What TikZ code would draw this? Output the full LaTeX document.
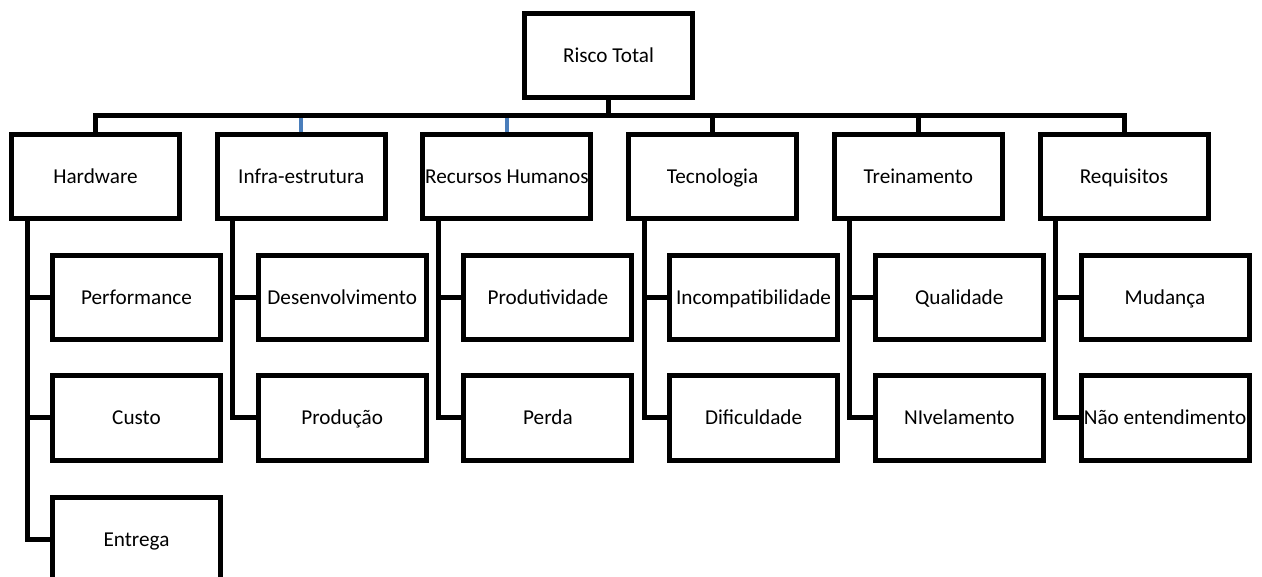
\documentclass[tikz,border=0pt]{standalone}
\usepackage{fontspec}
\setmainfont{Carlito}
\definecolor{linkblue}{RGB}{74,126,187}
\begin{document}
\begin{tikzpicture}[x=1pt,y=-1pt,
  box/.style={draw, line width=5pt, minimum width=168pt, minimum height=84pt,
    inner sep=0pt, line join=miter, font=\fontsize{21.2}{25}\selectfont,
    text height=13.6pt, text depth=0pt},
  link/.style={line width=5pt, line join=miter},
  bluelink/.style={line width=4.5pt, draw=linkblue}]
\useasboundingbox (0,0) rectangle (1262,577);
\clip (0,0) rectangle (1262,577);
\fill[white] (0,0) rectangle (1262,577);

% root
\node[box] (root) at (608.5,56) {Risco Total};

% first level
\node[box] (hw)    at (95.5,177)  {Hardware};
\node[box] (infra) at (301.2,177) {Infra-estrutura};
\node[box] (rh)    at (506.9,177) {Recursos Humanos};
\node[box] (tec)   at (712.6,177) {Tecnologia};
\node[box] (tre)   at (918.3,177) {Treinamento};
\node[box] (req)   at (1124,177)  {Requisitos};

% second level
\node[box] (perf)   at (136.5,297.5) {Performance};
\node[box] (custo)  at (136.5,418)   {Custo};
\node[box] (entr)   at (136.5,539.5) {Entrega};
\node[box] (desen)  at (342.2,297.5) {Desenvolvimento};
\node[box] (prod)   at (342.2,418)   {Produção};
\node[box] (produt) at (547.9,297.5) {Produtividade};
\node[box] (perda)  at (547.9,418)   {Perda};
\node[box] (incomp) at (753.6,297.5) {Incompatibilidade};
\node[box] (dific)  at (753.6,418)   {Dificuldade};
\node[box] (qual)   at (959.3,297.5) {Qualidade};
\node[box] (nivel)  at (959.3,418)   {NIvelamento};
\node[box] (mud)    at (1165,297.5)  {Mudança};
\node[box] (naoent) at (1165,418)    {Não entendimento};

% bus under the root
\coordinate (bus) at (608.5,116);
\draw[bluelink] (infra.north) -- (infra.north |- bus);
\draw[bluelink] (rh.north) -- (rh.north |- bus);
\draw[link] (root.south) -- (bus);
\draw[link] (hw.north) |- (bus) -| (req.north);
\draw[link] (tec.north) -- (tec.north |- bus);
\draw[link] (tre.north) -- (tre.north |- bus);

% branches to the second level
\draw[link] ([xshift=18pt]hw.south west) |- (entr.west);
\draw[link] ([xshift=18pt]hw.south west |- perf.west) -- (perf.west);
\draw[link] ([xshift=18pt]hw.south west |- custo.west) -- (custo.west);

\draw[link] ([xshift=18pt]infra.south west) |- (prod.west);
\draw[link] ([xshift=18pt]infra.south west |- desen.west) -- (desen.west);

\draw[link] ([xshift=18pt]rh.south west) |- (perda.west);
\draw[link] ([xshift=18pt]rh.south west |- produt.west) -- (produt.west);

\draw[link] ([xshift=18pt]tec.south west) |- (dific.west);
\draw[link] ([xshift=18pt]tec.south west |- incomp.west) -- (incomp.west);

\draw[link] ([xshift=18pt]tre.south west) |- (nivel.west);
\draw[link] ([xshift=18pt]tre.south west |- qual.west) -- (qual.west);

\draw[link] ([xshift=18pt]req.south west) |- (naoent.west);
\draw[link] ([xshift=18pt]req.south west |- mud.west) -- (mud.west);
\end{tikzpicture}
\end{document}
